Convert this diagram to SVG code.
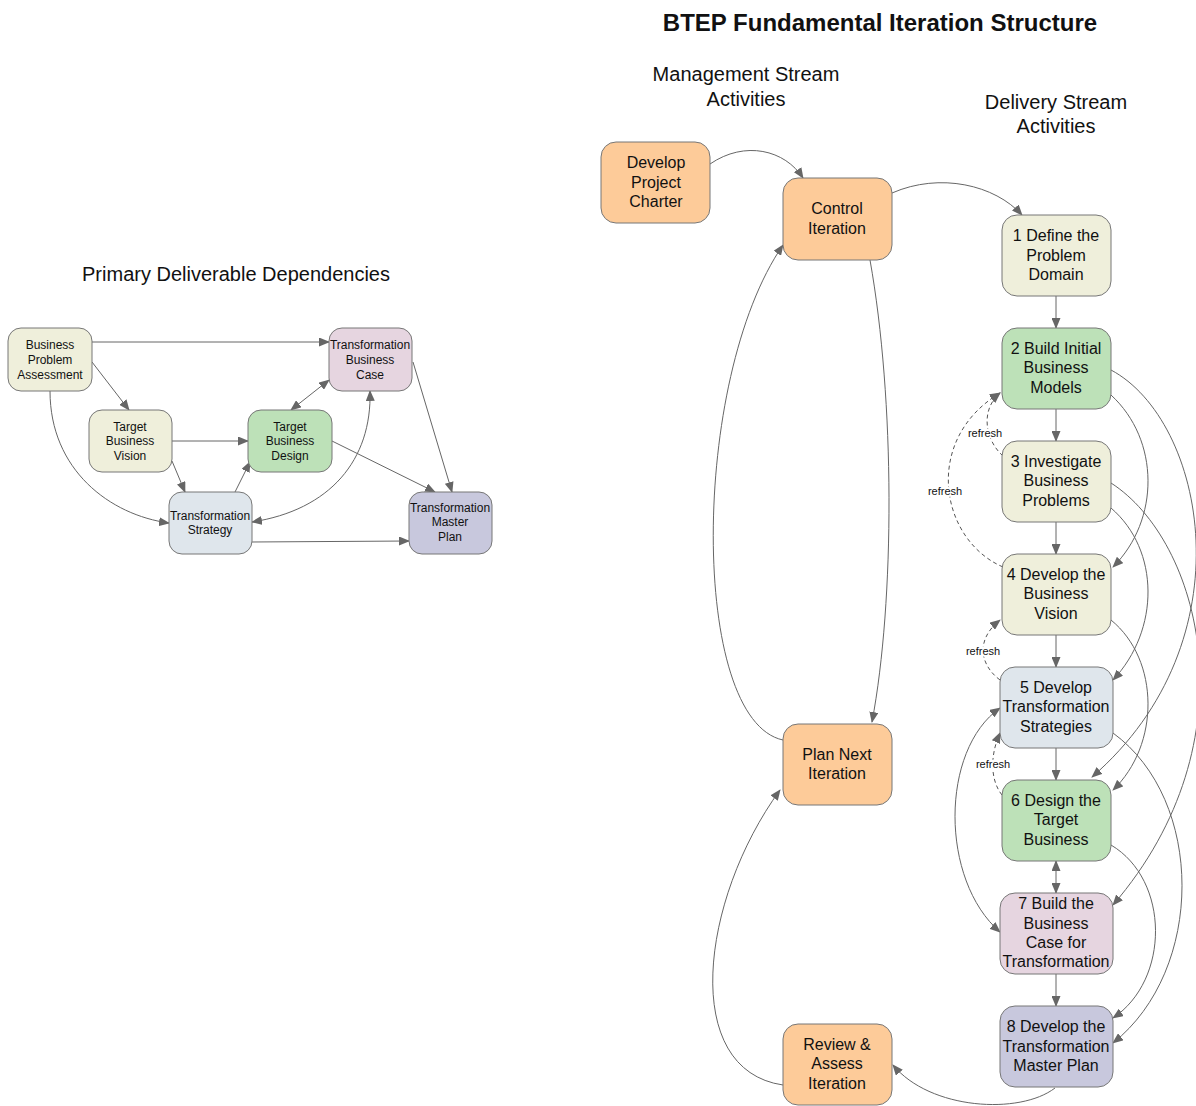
<svg xmlns="http://www.w3.org/2000/svg" width="1196" height="1106" viewBox="0 0 1196 1106">
<style>
text{font-family:"Liberation Sans",Arial,sans-serif;fill:#111;text-anchor:middle}
.t{font-size:16px}
.s{font-size:12px}
.h{font-size:20px}
.title{font-size:24px;font-weight:bold}
.lbl{font-size:11px;paint-order:stroke;stroke:#fff;stroke-width:4px}
.n{stroke:#777;stroke-width:1}
.or{fill:#fdcb99}.ye{fill:#efefdb}.gr{fill:#bde1b8}.bl{fill:#dfe6ec}.pk{fill:#e6d5e0}.lv{fill:#c8c8dd}
.c path,.c line{fill:none;stroke:#666;stroke-width:1;marker-end:url(#a)}
.c .d{stroke-dasharray:4,3;stroke:#555}
.c .b{marker-start:url(#a)}
</style>
<defs>
<marker id="a" markerUnits="userSpaceOnUse" markerWidth="11" markerHeight="9" refX="10" refY="4.5" orient="auto-start-reverse">
<path d="M0,0 L11,4.5 L0,9 z" fill="#666"/>
</marker>
</defs>
<rect width="1196" height="1106" fill="#fff"/>
<text class="title" x="880" y="31">BTEP Fundamental Iteration Structure</text>
<text class="h" x="746" y="81">Management Stream</text>
<text class="h" x="746" y="106">Activities</text>
<text class="h" x="1056" y="109">Delivery Stream</text>
<text class="h" x="1056" y="133">Activities</text>
<text class="h" x="236" y="281">Primary Deliverable Dependencies</text>

<g class="c" id="connectors">
<!-- left -->
<line x1="92" y1="342" x2="329" y2="342"/>
<line x1="92" y1="362" x2="129" y2="410"/>
<path d="M50,391 C50,470 110,515 169,523"/>
<line x1="172" y1="441" x2="248" y2="441"/>
<line x1="172" y1="461" x2="185" y2="492"/>
<line x1="235" y1="492" x2="250" y2="462"/>
<line class="b" x1="291" y1="410" x2="329" y2="380"/>
<path class="b" d="M252,522 C330,510 372,460 370,391"/>
<line x1="332" y1="441" x2="435" y2="492"/>
<line x1="413" y1="362" x2="452" y2="492"/>
<line x1="252" y1="542" x2="409" y2="541"/>
<!-- management -->
<path d="M710,164 C745,140 785,150 803,178"/>
<path d="M892,193 C940,172 995,185 1022,215"/>
<path d="M870,260 C895,400 895,600 872,722"/>
<path d="M783,740 C690,720 690,380 783,245"/>
<path d="M783,1085 C680,1070 700,900 780,790"/>
<path d="M1055,1088 C1020,1115 930,1110 893,1065"/>
<!-- delivery straight -->
<line x1="1056" y1="296" x2="1056" y2="328"/>
<line x1="1056" y1="409" x2="1056" y2="441"/>
<line x1="1056" y1="522" x2="1056" y2="554"/>
<line x1="1056" y1="635" x2="1056" y2="667"/>
<line x1="1056" y1="748" x2="1056" y2="780"/>
<line class="b" x1="1056" y1="861" x2="1056" y2="893"/>
<line x1="1056" y1="974" x2="1056" y2="1006"/>
<!-- delivery curves -->
<path d="M1111,395 C1160,440 1160,520 1113,567"/>
<path d="M1111,508 C1160,550 1160,630 1113,680"/>
<path d="M1111,620 C1160,660 1160,745 1113,790"/>
<path d="M1113,733 C1205,800 1205,970 1113,1043"/>
<path d="M1111,845 C1170,880 1170,980 1113,1018"/>
<path d="M1111,370 C1205,420 1250,640 1092,777"/>
<path d="M1111,483 C1200,540 1255,740 1113,905"/>
<path class="b" d="M1000,708 C940,750 940,880 1000,932"/>
<!-- refresh -->
<path class="d" d="M1003,456 C985,440 980,410 1000,393"/>
<path class="d" d="M1003,567 C940,540 922,440 1000,393"/>
<path class="d" d="M1000,680 C980,665 975,640 1000,620"/>
<path class="d" d="M1002,795 C990,780 990,755 1000,733"/>
<text class="lbl" x="985" y="437">refresh</text>
<text class="lbl" x="945" y="495">refresh</text>
<text class="lbl" x="983" y="655">refresh</text>
<text class="lbl" x="993" y="768">refresh</text>
</g>

<!-- left nodes -->
<g id="bpa"><rect class="n ye" x="8" y="328" width="84" height="63" rx="13"/>
<text class="s" x="50" y="349">Business</text><text class="s" x="50" y="364">Problem</text><text class="s" x="50" y="379">Assessment</text></g>
<g id="tbv"><rect class="n ye" x="89" y="410" width="83" height="62" rx="13"/>
<text class="s" x="130" y="431">Target</text><text class="s" x="130" y="445">Business</text><text class="s" x="130" y="460">Vision</text></g>
<g id="tbd"><rect class="n gr" x="248" y="410" width="84" height="62" rx="13"/>
<text class="s" x="290" y="431">Target</text><text class="s" x="290" y="445">Business</text><text class="s" x="290" y="460">Design</text></g>
<g id="tbc"><rect class="n pk" x="329" y="328" width="83" height="63" rx="13"/>
<text class="s" x="370" y="349">Transformation</text><text class="s" x="370" y="364">Business</text><text class="s" x="370" y="379">Case</text></g>
<g id="ts"><rect class="n bl" x="169" y="492" width="83" height="62" rx="13"/>
<text class="s" x="210" y="520">Transformation</text><text class="s" x="210" y="534">Strategy</text></g>
<g id="tmp"><rect class="n lv" x="409" y="492" width="83" height="62" rx="13"/>
<text class="s" x="450" y="512">Transformation</text><text class="s" x="450" y="526">Master</text><text class="s" x="450" y="541">Plan</text></g>

<!-- management nodes -->
<g id="dpc"><rect class="n or" x="601" y="142" width="109" height="81" rx="15"/>
<text class="t" x="656" y="168">Develop</text><text class="t" x="656" y="188">Project</text><text class="t" x="656" y="207">Charter</text></g>
<g id="ci"><rect class="n or" x="783" y="178" width="109" height="82" rx="15"/>
<text class="t" x="837" y="214">Control</text><text class="t" x="837" y="234">Iteration</text></g>
<g id="pni"><rect class="n or" x="783" y="724" width="109" height="81" rx="15"/>
<text class="t" x="837" y="760">Plan Next</text><text class="t" x="837" y="779">Iteration</text></g>
<g id="rai"><rect class="n or" x="783" y="1024" width="109" height="81" rx="15"/>
<text class="t" x="837" y="1050">Review &amp;</text><text class="t" x="837" y="1069">Assess</text><text class="t" x="837" y="1089">Iteration</text></g>

<!-- delivery nodes -->
<g id="n1"><rect class="n ye" x="1002" y="215" width="109" height="81" rx="15"/>
<text class="t" x="1056" y="241">1 Define the</text><text class="t" x="1056" y="261">Problem</text><text class="t" x="1056" y="280">Domain</text></g>
<g id="n2"><rect class="n gr" x="1002" y="328" width="109" height="81" rx="15"/>
<text class="t" x="1056" y="354">2 Build Initial</text><text class="t" x="1056" y="373">Business</text><text class="t" x="1056" y="393">Models</text></g>
<g id="n3"><rect class="n ye" x="1002" y="441" width="109" height="81" rx="15"/>
<text class="t" x="1056" y="467">3 Investigate</text><text class="t" x="1056" y="486">Business</text><text class="t" x="1056" y="506">Problems</text></g>
<g id="n4"><rect class="n ye" x="1002" y="554" width="109" height="81" rx="15"/>
<text class="t" x="1056" y="580">4 Develop the</text><text class="t" x="1056" y="599">Business</text><text class="t" x="1056" y="619">Vision</text></g>
<g id="n5"><rect class="n bl" x="1000" y="667" width="113" height="81" rx="15"/>
<text class="t" x="1056" y="693">5 Develop</text><text class="t" x="1056" y="712">Transformation</text><text class="t" x="1056" y="732">Strategies</text></g>
<g id="n6"><rect class="n gr" x="1002" y="780" width="109" height="81" rx="15"/>
<text class="t" x="1056" y="806">6 Design the</text><text class="t" x="1056" y="825">Target</text><text class="t" x="1056" y="845">Business</text></g>
<g id="n7"><rect class="n pk" x="1000" y="893" width="113" height="81" rx="15"/>
<text class="t" x="1056" y="909">7 Build the</text><text class="t" x="1056" y="929">Business</text><text class="t" x="1056" y="948">Case for</text><text class="t" x="1056" y="967">Transformation</text></g>
<g id="n8"><rect class="n lv" x="1000" y="1006" width="113" height="81" rx="15"/>
<text class="t" x="1056" y="1032">8 Develop the</text><text class="t" x="1056" y="1052">Transformation</text><text class="t" x="1056" y="1071">Master Plan</text></g>
</svg>
